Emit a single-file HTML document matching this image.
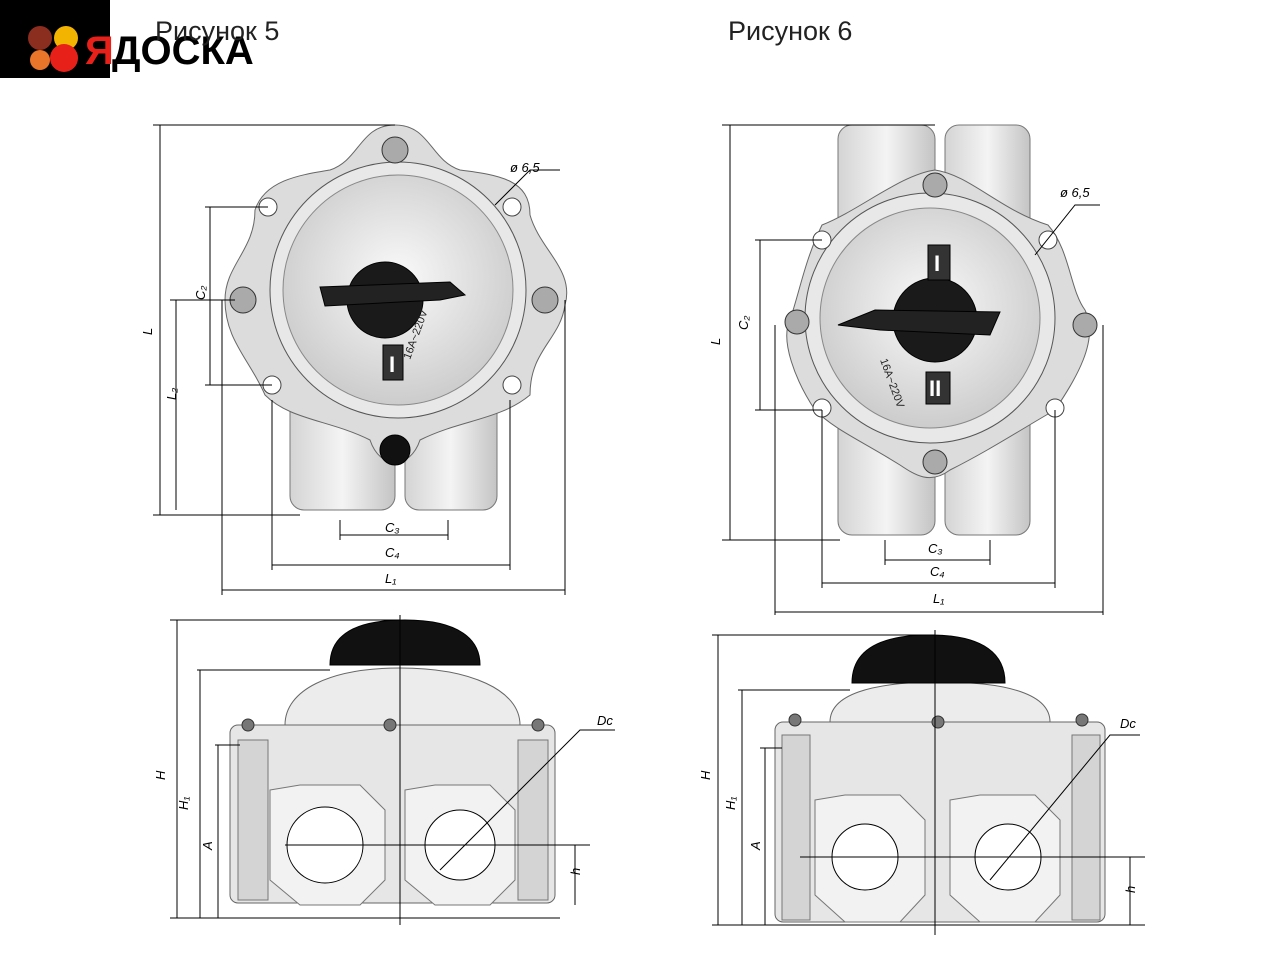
<!DOCTYPE html>
<html><head><meta charset="utf-8"><style>
html,body{margin:0;padding:0;background:#fff;width:1280px;height:960px;overflow:hidden}
svg{display:block}
text{font-family:"Liberation Sans",sans-serif}
</style></head><body>
<svg width="1280" height="960" viewBox="0 0 1280 960" xmlns="http://www.w3.org/2000/svg">
<defs>
<radialGradient id="g1" cx="50%" cy="45%" r="60%"><stop offset="0" stop-color="#fafafa"/><stop offset="1" stop-color="#c8c8c8"/></radialGradient>
<linearGradient id="tb" x1="0" x2="1"><stop offset="0" stop-color="#d4d4d4"/><stop offset="0.5" stop-color="#f4f4f4"/><stop offset="1" stop-color="#c4c4c4"/></linearGradient>
</defs>
<rect width="1280" height="960" fill="#fff"/>
<!-- logo -->
<rect x="0" y="0" width="110" height="78" fill="#000"/>
<circle cx="40" cy="38" r="12" fill="#8b2d1f"/><circle cx="66" cy="38" r="12" fill="#f2b400"/>
<circle cx="40" cy="60" r="10" fill="#e8752a"/><circle cx="64" cy="58" r="14" fill="#e8201a"/>
<text x="85" y="64" font-size="40" font-weight="bold" fill="#e8201a">Я</text>
<text x="112" y="64" font-size="40" font-weight="bold" fill="#000">ДОСКА</text>
<text x="155" y="40" font-size="27" fill="#222">Рисунок 5</text>
<text x="728" y="40" font-size="27" fill="#222">Рисунок 6</text>

<g stroke="#000" stroke-width="1" fill="none">
<!-- FIG 5 TOP -->
<rect x="290" y="395" width="105" height="115" rx="14" fill="url(#tb)" stroke="#777"/>
<rect x="405" y="395" width="92" height="115" rx="14" fill="url(#tb)" stroke="#777"/>
<path d="M395,125 C430,125 430,160 460,170 C500,175 530,180 530,215 C540,250 575,270 565,305 C560,340 530,350 530,395 C500,420 460,420 420,440 C410,470 380,470 370,440 C330,420 290,420 265,395 C250,360 225,340 225,300 C225,265 255,250 255,210 C265,180 300,175 330,170 C360,160 360,125 395,125Z" fill="#dcdcdc" stroke="#666"/>
<circle cx="398" cy="290" r="128" fill="#e8e8e8" stroke="#555"/>
<circle cx="398" cy="290" r="115" fill="url(#g1)" stroke="#888"/>
<circle cx="385" cy="300" r="38" fill="#1a1a1a"/>
<path d="M320,287 L450,282 L465,295 L440,300 L400,302 L325,306Z" fill="#222"/>
<rect x="383" y="345" width="20" height="35" fill="#333"/>
<g fill="#aaa" stroke="#333"><circle cx="395" cy="150" r="13"/><circle cx="243" cy="300" r="13"/><circle cx="545" cy="300" r="13"/></g>
<circle cx="395" cy="450" r="15" fill="#111"/>
<g fill="#fff" stroke="#444"><circle cx="268" cy="207" r="9"/><circle cx="512" cy="207" r="9"/><circle cx="272" cy="385" r="9"/><circle cx="512" cy="385" r="9"/></g>
<!-- dims fig5 top -->
<path d="M153,125 H395 M160,125 V515 M153,515 H300 M176,300 V510 M170,300 H235 M210,207 V385 M205,207 H268 M205,385 H272 M340,535 H448 M340,520 V540 M448,520 V540 M272,565 H510 M272,400 V570 M510,400 V570 M222,590 H565 M222,300 V595 M565,300 V595 M495,205 L530,170 H560"/>
<!-- FIG 6 TOP -->
<rect x="838" y="125" width="97" height="120" rx="14" fill="url(#tb)" stroke="#777"/>
<rect x="945" y="125" width="85" height="120" rx="14" fill="url(#tb)" stroke="#777"/>
<rect x="838" y="395" width="97" height="140" rx="14" fill="url(#tb)" stroke="#777"/>
<rect x="945" y="395" width="85" height="140" rx="14" fill="url(#tb)" stroke="#777"/>
<path d="M935,170 C970,175 1000,210 1048,225 C1070,250 1070,290 1085,310 C1100,340 1075,380 1055,410 C1020,430 990,450 950,470 C930,485 915,475 900,465 C860,440 835,430 815,410 C795,380 780,340 790,320 C800,290 805,260 822,225 C860,210 900,175 935,170Z" fill="#dcdcdc" stroke="#666"/>
<circle cx="930" cy="318" r="125" fill="#e8e8e8" stroke="#555"/>
<circle cx="930" cy="318" r="110" fill="url(#g1)" stroke="#888"/>
<circle cx="935" cy="320" r="42" fill="#1a1a1a"/>
<path d="M838,325 L875,310 L1000,312 L990,335 L880,330Z" fill="#222"/>
<rect x="928" y="245" width="22" height="35" fill="#333"/><rect x="926" y="372" width="24" height="32" fill="#333"/>
<g fill="#aaa" stroke="#333"><circle cx="935" cy="185" r="12"/><circle cx="797" cy="322" r="12"/><circle cx="1085" cy="325" r="12"/><circle cx="935" cy="462" r="12"/></g>
<g fill="#fff" stroke="#444"><circle cx="822" cy="240" r="9"/><circle cx="1048" cy="240" r="9"/><circle cx="822" cy="408" r="9"/><circle cx="1055" cy="408" r="9"/></g>
<path d="M722,125 H935 M730,125 V540 M722,540 H840 M760,240 V410 M755,240 H822 M755,410 H822 M885,560 H990 M885,540 V565 M990,540 V565 M822,583 H1055 M822,410 V588 M1055,410 V588 M775,612 H1103 M775,325 V615 M1103,325 V615 M1035,255 L1075,205 H1100"/>
<!-- FIG 5 SIDE -->
<rect x="230" y="725" width="325" height="178" rx="8" fill="#e6e6e6" stroke="#666"/>
<path d="M285,725 C285,690 330,668 400,668 C470,668 520,690 520,725Z" fill="#ececec" stroke="#666"/>
<path d="M330,665 C330,635 355,620 405,620 C460,620 480,640 480,665Z" fill="#111"/>
<rect x="238" y="740" width="30" height="160" fill="#d4d4d4" stroke="#777"/><rect x="518" y="740" width="30" height="160" fill="#d4d4d4" stroke="#777"/>
<path d="M270,790 L300,785 L360,785 L385,810 L385,880 L360,905 L300,905 L270,880Z" fill="#f2f2f2" stroke="#777"/>
<path d="M405,790 L435,785 L490,785 L515,810 L515,880 L490,905 L435,905 L405,880Z" fill="#f2f2f2" stroke="#777"/>
<circle cx="325" cy="845" r="38" fill="#fff" stroke="#000"/><circle cx="460" cy="845" r="35" fill="#fff" stroke="#000"/>
<g fill="#777" stroke="#333"><circle cx="248" cy="725" r="6"/><circle cx="390" cy="725" r="6"/><circle cx="538" cy="725" r="6"/></g>
<path d="M170,620 H400 M177,620 V918 M170,918 H560 M197,670 H330 M200,670 V918 M215,745 H240 M218,745 V918 M400,615 V925 M285,845 H590 M575,845 V905 M440,870 L580,730 H615"/>
<!-- FIG 6 SIDE -->
<rect x="775" y="722" width="330" height="200" rx="8" fill="#e6e6e6" stroke="#666"/>
<path d="M830,722 C830,695 870,682 940,682 C1010,682 1050,695 1050,722Z" fill="#ececec" stroke="#666"/>
<path d="M852,683 C852,650 880,635 930,635 C985,635 1005,655 1005,683Z" fill="#111"/>
<rect x="782" y="735" width="28" height="185" fill="#d4d4d4" stroke="#777"/><rect x="1072" y="735" width="28" height="185" fill="#d4d4d4" stroke="#777"/>
<path d="M815,800 L845,795 L900,795 L925,820 L925,895 L900,922 L845,922 L815,895Z" fill="#f2f2f2" stroke="#777"/>
<path d="M950,800 L980,795 L1035,795 L1060,820 L1060,895 L1035,922 L980,922 L950,895Z" fill="#f2f2f2" stroke="#777"/>
<circle cx="865" cy="857" r="33" fill="#fff" stroke="#000"/><circle cx="1008" cy="857" r="33" fill="#fff" stroke="#000"/>
<g fill="#777" stroke="#333"><circle cx="795" cy="720" r="6"/><circle cx="938" cy="722" r="6"/><circle cx="1082" cy="720" r="6"/></g>
<path d="M712,635 H935 M718,635 V925 M712,925 H1145 M738,690 H850 M742,690 V925 M760,748 H782 M765,748 V925 M935,630 V935 M800,857 H1145 M1130,857 V925 M990,880 L1110,735 H1140"/>
</g>
<g font-size="13" fill="#000" font-style="italic">
<text x="510" y="172">ø 6,5</text><text x="1060" y="197">ø 6,5</text>
<text x="385" y="532">C₃</text><text x="385" y="557">C₄</text><text x="385" y="583">L₁</text>
<text x="928" y="553">C₃</text><text x="930" y="576">C₄</text><text x="933" y="603">L₁</text>
<text x="597" y="725">Dc</text><text x="1120" y="728">Dc</text>
<text x="152" y="335" transform="rotate(-90 152 335)">L</text><text x="176" y="400" transform="rotate(-90 176 400)">L₂</text>
<text x="205" y="300" transform="rotate(-90 205 300)">C₂</text>
<text x="720" y="345" transform="rotate(-90 720 345)">L</text><text x="748" y="330" transform="rotate(-90 748 330)">C₂</text>
<text x="165" y="780" transform="rotate(-90 165 780)">H</text><text x="188" y="810" transform="rotate(-90 188 810)">H₁</text>
<text x="212" y="850" transform="rotate(-90 212 850)">A</text><text x="580" y="875" transform="rotate(-90 580 875)">h</text>
<text x="710" y="780" transform="rotate(-90 710 780)">H</text><text x="735" y="810" transform="rotate(-90 735 810)">H₁</text>
<text x="760" y="850" transform="rotate(-90 760 850)">A</text><text x="1135" y="893" transform="rotate(-90 1135 893)">h</text>
</g>
<g font-size="11" fill="#222">
<text x="410" y="360" transform="rotate(-70 410 360)">16A~220V</text>
<text x="880" y="360" transform="rotate(70 880 360)">16A~220V</text>
</g>
<g font-size="22" font-weight="bold" fill="#fff"><text x="389" y="372">I</text><text x="934" y="271">I</text><text x="929" y="396">II</text></g>
</svg>
</body></html>
